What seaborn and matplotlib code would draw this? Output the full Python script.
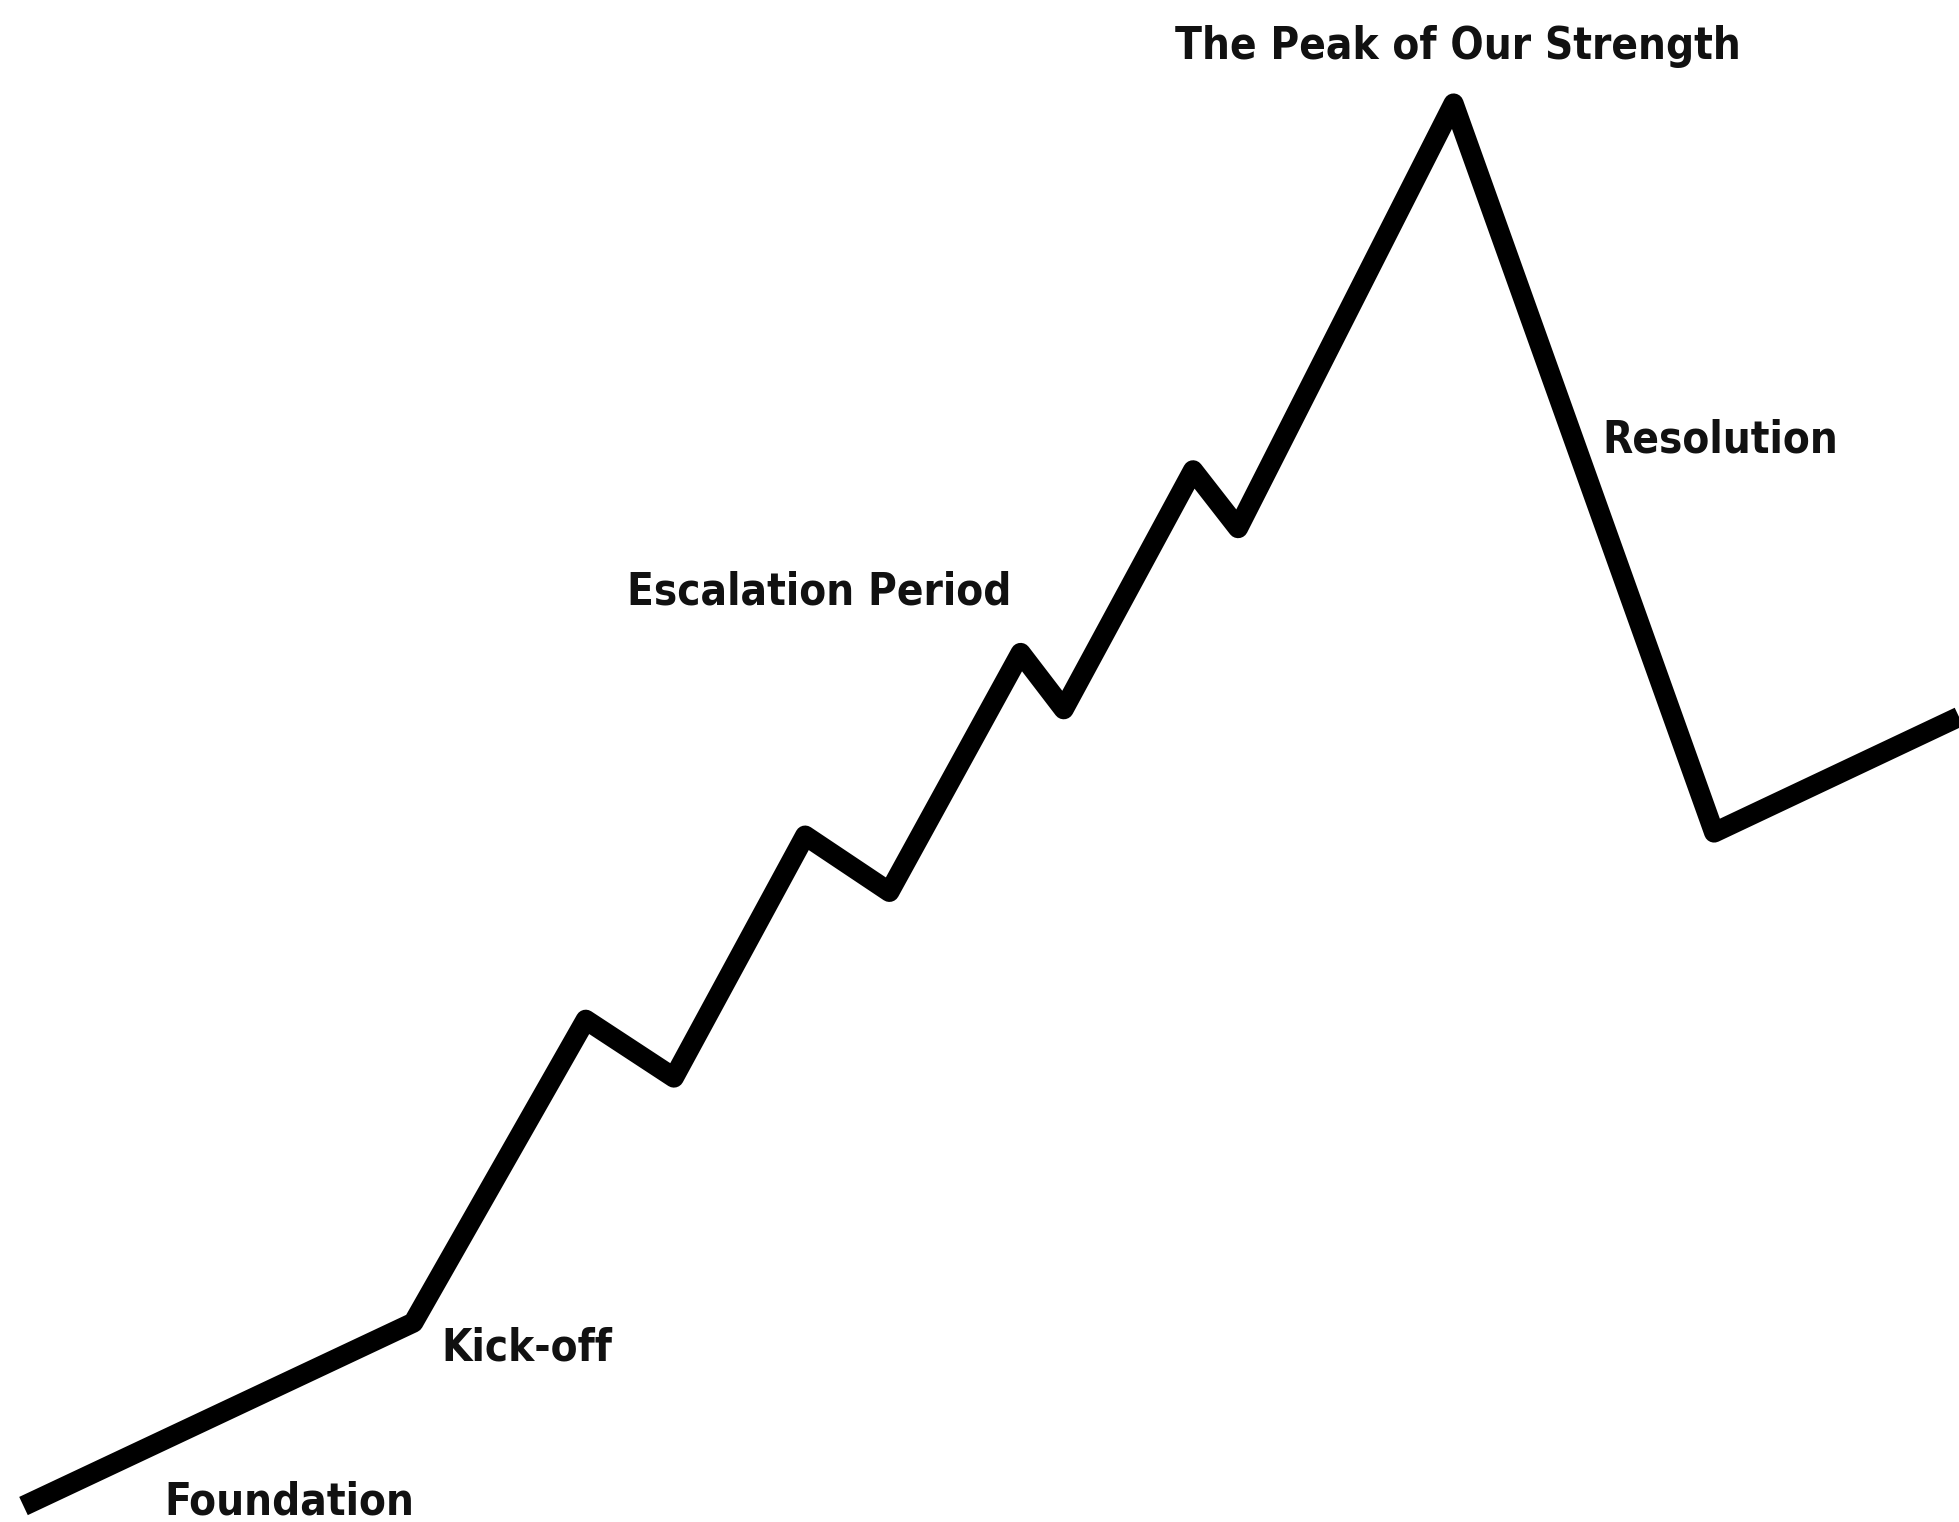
import matplotlib
matplotlib.use('Agg')
import matplotlib.pyplot as plt
from matplotlib import font_manager as fm
import seaborn as sns
import pandas as pd

# Story arc: time (0-100) vs strength (0-100)
time = [1.2, 21.1, 29.9, 34.4, 41.1, 45.4, 52.1, 54.3, 60.9, 63.2, 74.2, 87.5, 100.0]
strength = [1.05, 13.1, 33.0, 29.2, 45.1, 41.4, 57.1, 53.4, 69.1, 65.3, 93.2, 45.3, 52.9]

# Phase labels and where they sit (x centre, baseline)
labels = ['Foundation', 'Kick-off', 'Escalation Period', 'The Peak of Our Strength', 'Resolution']
label_x = [14.75, 26.9, 41.8, 74.4, 87.8]
label_y = [0.5, 10.6, 60.3, 96.1, 70.3]

df = pd.DataFrame({'time': time, 'strength': strength})

sns.set_style('white')

# look for a condensed bold face, otherwise fall back to Roboto bold
cond = [f for f in fm.fontManager.ttflist
        if f.weight in ('bold', 700) and f.style == 'normal'
        and ('Condensed' in f.fname or 'Narrow' in f.fname or 'Condensed' in f.name or 'Narrow' in f.name)]
if cond:
    cond.sort(key=lambda f: ('Semi' in f.fname, f.fname))
    label_font = fm.FontProperties(fname=cond[0].fname, size=31.5)
else:
    label_font = fm.FontProperties(family='Roboto', weight='bold', size=30)

fig = plt.figure(figsize=(19.59, 15.22), dpi=100)
ax = fig.add_axes([0, 0, 1, 1])

sns.lineplot(data=df, x='time', y='strength', sort=False, color='black',
             linewidth=14.5, solid_joinstyle='round', solid_capstyle='butt', ax=ax)

for lab, lx, ly in zip(labels, label_x, label_y):
    ax.text(lx, ly, lab, ha='center', va='baseline', fontproperties=label_font,
            color='#111111')

ax.set_xlim(0, 100)
ax.set_ylim(0, 100)
ax.axis('off')

plt.savefig('out.png', dpi=100, facecolor='white')
plt.close()
